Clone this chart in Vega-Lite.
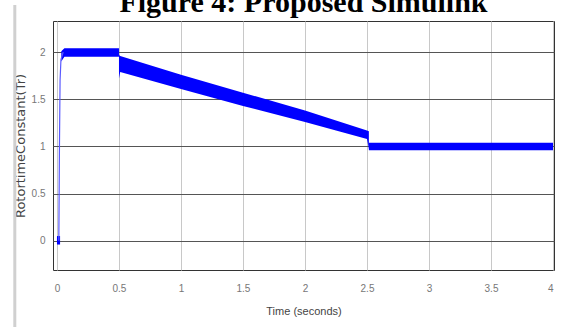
{
  "$schema": "https://vega.github.io/schema/vega-lite/v6.json",
  "autosize": "none",
  "width": 501,
  "height": 249,
  "padding": {"left": 53, "top": 21, "right": 13, "bottom": 57},
  "background": "white",
  "title": {
    "text": "Figure 4: Proposed Simulink",
    "font": "Liberation Serif",
    "fontSize": 30,
    "fontWeight": "bold",
    "color": "#000000",
    "anchor": "middle",
    "offset": -15
  },
  "config": {
    "view": {"stroke": "#333333", "strokeWidth": 1},
    "axis": {
      "labelFont": "Liberation Sans",
      "labelFontSize": 10,
      "labelColor": "#777777",
      "titleFont": "DejaVu Sans",
      "titleFontWeight": "normal",
      "titleColor": "#444444",
      "domain": false,
      "ticks": false,
      "format": "~g"
    }
  },
  "datasets": {
    "band": [
      {"seg": "a", "t": 0.0, "lo": -0.04, "hi": 0.05},
      {"seg": "a", "t": 0.025, "lo": -0.04, "hi": 0.05},
      {"seg": "b", "t": 0.035, "lo": 1.9, "hi": 2.01},
      {"seg": "b", "t": 0.06, "lo": 1.95, "hi": 2.04},
      {"seg": "b", "t": 0.3, "lo": 1.95, "hi": 2.04},
      {"seg": "b", "t": 0.5, "lo": 1.95, "hi": 2.04},
      {"seg": "c", "t": 0.5, "lo": 1.72, "hi": 1.97},
      {"seg": "c", "t": 0.51, "lo": 1.79, "hi": 1.96},
      {"seg": "c", "t": 1.0, "lo": 1.61, "hi": 1.76},
      {"seg": "c", "t": 1.5, "lo": 1.43, "hi": 1.57},
      {"seg": "c", "t": 2.0, "lo": 1.26, "hi": 1.38},
      {"seg": "c", "t": 2.5, "lo": 1.08, "hi": 1.17},
      {"seg": "c", "t": 2.515, "lo": 0.97, "hi": 1.16},
      {"seg": "d", "t": 2.515, "lo": 0.96, "hi": 1.04},
      {"seg": "d", "t": 3.0, "lo": 0.96, "hi": 1.04},
      {"seg": "d", "t": 3.5, "lo": 0.96, "hi": 1.04},
      {"seg": "d", "t": 4.0, "lo": 0.96, "hi": 1.04}
    ],
    "rise": [
      {"t": 0.015, "v": 0.0},
      {"t": 0.02, "v": 1.0},
      {"t": 0.025, "v": 1.7},
      {"t": 0.032, "v": 1.92},
      {"t": 0.05, "v": 2.0}
    ],
    "bar": [
      {"t": -0.34, "top": 2.5, "bottom": -0.95}
    ]
  },
  "layer": [
    {
      "data": {"name": "band"},
      "mark": {"type": "area", "color": "#0000ff", "opacity": 1, "clip": true},
      "encoding": {
        "x": {
          "field": "t", "type": "quantitative",
          "scale": {"domain": [-0.032, 4.008], "nice": false, "zero": false},
          "axis": {
            "values": [0, 0.5, 1, 1.5, 2, 2.5, 3, 3.5, 4],
            "title": "Time (seconds)",
            "titleFont": "Liberation Sans",
            "titleFontSize": 11,
            "labelPadding": 13,
            "titlePadding": 12,
            "grid": true,
            "gridColor": "#c8c8c8",
            "gridWidth": 1
          }
        },
        "y": {
          "field": "hi", "type": "quantitative",
          "scale": {"domain": [-0.31, 2.33], "nice": false, "zero": false},
          "axis": {
            "values": [0, 0.5, 1, 1.5, 2],
            "title": "RotortimeConstant(Tr)",
            "titleFontSize": 13,
            "titlePadding": 4,
            "labelPadding": 8,
            "grid": true,
            "gridColor": "#555555",
            "gridWidth": 1
          }
        },
        "y2": {"field": "lo"},
        "detail": {"field": "seg"}
      }
    },
    {
      "data": {"name": "rise"},
      "mark": {"type": "line", "color": "#5a5aff", "strokeWidth": 1.2, "clip": true},
      "encoding": {
        "x": {"field": "t", "type": "quantitative"},
        "y": {"field": "v", "type": "quantitative"}
      }
    },
    {
      "data": {"name": "bar"},
      "mark": {"type": "rule", "color": "#d0d0d0", "strokeWidth": 3, "clip": false},
      "encoding": {
        "x": {"field": "t", "type": "quantitative"},
        "y": {"field": "top", "type": "quantitative"},
        "y2": {"field": "bottom"}
      }
    }
  ]
}
